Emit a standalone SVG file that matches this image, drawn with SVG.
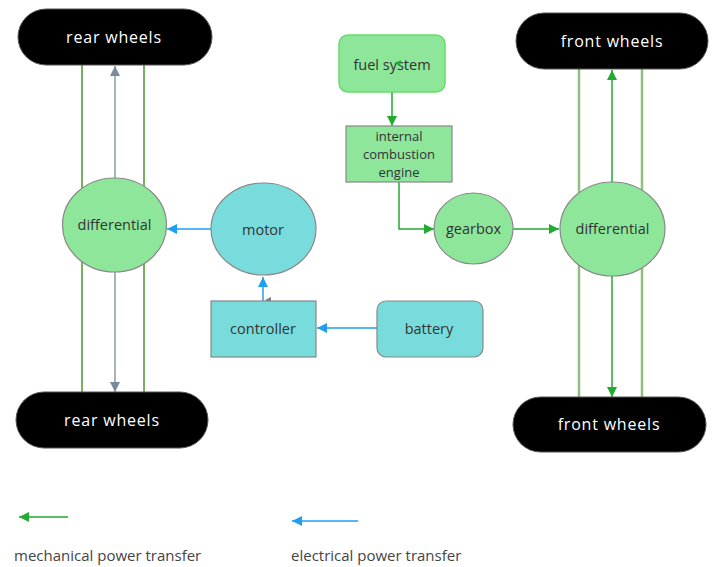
<svg xmlns="http://www.w3.org/2000/svg" width="723" height="567" viewBox="0 0 723 567">
<defs>
<marker id="ag" viewBox="0 0 10 10" refX="10" refY="5" markerWidth="10" markerHeight="10" markerUnits="userSpaceOnUse" orient="auto"><path d="M0,0 L10,5 L0,10 Z" fill="#22aa33"/></marker>
<marker id="ab" viewBox="0 0 10 10" refX="10" refY="5" markerWidth="10" markerHeight="10" markerUnits="userSpaceOnUse" orient="auto"><path d="M0,0 L10,5 L0,10 Z" fill="#1e9ff0"/></marker>
<marker id="agr" viewBox="0 0 10 10" refX="10" refY="5" markerWidth="10" markerHeight="10" markerUnits="userSpaceOnUse" orient="auto"><path d="M0,0 L10,5 L0,10 Z" fill="#7a8a99"/></marker>
</defs>
<style>
.wheel{fill:#000;stroke:#555;stroke-width:1}
.wt{font-family:"Open Sans","DejaVu Sans",sans-serif;font-size:16px;fill:#fff;letter-spacing:0.8px;text-anchor:middle;dominant-baseline:central}
.lt{font-family:"Open Sans","DejaVu Sans",sans-serif;font-size:14.5px;fill:#333;text-anchor:middle;dominant-baseline:central}
.st{font-family:"Open Sans","DejaVu Sans",sans-serif;font-size:13px;fill:#333;text-anchor:middle;dominant-baseline:central}
.gn{fill:#8ee69b;stroke:#888;stroke-width:1.2}
.cy{fill:#79dcdc;stroke:#888;stroke-width:1.2}
.leg{font-family:"Open Sans","DejaVu Sans",sans-serif;font-size:15px;fill:#444}
.shaftL{stroke:#77b060;stroke-width:2;fill:none}
.shaftR{stroke:#8fbf80;stroke-width:2.5;fill:none}
.mg{stroke:#22aa33;stroke-width:1.5;fill:none}
.el{stroke:#1e9ff0;stroke-width:1.5;fill:none}
.gr{stroke:#8a9aa8;stroke-width:1.5;fill:none}
</style>
<g id="shafts">
<line class="shaftL" x1="82" y1="65" x2="82" y2="392"/>
<line class="shaftL" x1="144" y1="65" x2="144" y2="392"/>
<line class="shaftR" x1="579" y1="69" x2="579" y2="397"/>
<line class="shaftR" x1="642" y1="69" x2="642" y2="397"/>
</g>
<g id="connectors">
<line class="gr" x1="115" y1="178" x2="115" y2="66" marker-end="url(#agr)"/>
<line class="gr" x1="115" y1="272" x2="115" y2="392" marker-end="url(#agr)"/>
<line class="el" x1="211" y1="229" x2="167" y2="229" marker-end="url(#ab)"/>
<line class="el" x1="263" y1="301" x2="263" y2="277" marker-end="url(#ab)"/>
<path d="M265,300 L271,297 L271,303 Z" fill="#7f7f7f"/>
<line class="el" x1="377" y1="328" x2="317" y2="328" marker-end="url(#ab)"/>
<line class="mg" x1="392" y1="92" x2="392" y2="126" marker-end="url(#ag)"/>
<polyline class="mg" points="399,182 399,229 434,229" marker-end="url(#ag)"/>
<line class="mg" x1="513" y1="229" x2="559" y2="229" marker-end="url(#ag)"/>
<line class="mg" x1="612" y1="182" x2="612" y2="70" marker-end="url(#ag)"/>
<line class="mg" x1="612" y1="276" x2="612" y2="397" marker-end="url(#ag)"/>
</g>
<g id="rear-wheels-top"><rect class="wheel" x="18" y="9" width="194" height="56" rx="28"/><text class="wt" x="114" y="37">rear wheels</text></g>
<g id="rear-wheels-bottom"><rect class="wheel" x="16" y="392" width="192" height="56" rx="28"/><text class="wt" x="112" y="420">rear wheels</text></g>
<g id="front-wheels-top"><rect class="wheel" x="516" y="13" width="192" height="56" rx="28"/><text class="wt" x="612" y="41">front wheels</text></g>
<g id="front-wheels-bottom"><rect class="wheel" x="513" y="397" width="193" height="55" rx="27.5"/><text class="wt" x="609" y="424">front wheels</text></g>
<g id="differential-rear"><ellipse class="gn" cx="114.5" cy="225" rx="52" ry="47"/><text class="lt" x="114.5" y="224">differential</text></g>
<g id="motor"><ellipse class="cy" cx="263.5" cy="229" rx="52.5" ry="46"/><text class="lt" x="263" y="229">motor</text></g>
<g id="controller"><rect class="cy" x="211" y="301" width="105" height="56"/><text class="lt" x="263" y="328">controller</text></g>
<g id="battery"><rect class="cy" x="377" y="301" width="106" height="56" rx="9"/><text class="lt" x="429" y="328">battery</text></g>
<g id="fuel-system"><rect x="339" y="35" width="106" height="57" rx="9" fill="#8ee69b" stroke="#66dd66" stroke-width="1.5"/><text class="lt" x="392" y="64">fuel system</text><path d="M395,63 L401,60 L400,66 Z" fill="#22aa33"/></g>
<g id="ice"><rect class="gn" x="346" y="126" width="106" height="56"/><text class="st" x="399" y="136">internal</text><text class="st" x="399" y="154">combustion</text><text class="st" x="399" y="172">engine</text></g>
<g id="gearbox"><ellipse class="gn" cx="473.5" cy="228.5" rx="39.5" ry="35.5"/><text class="lt" x="473.5" y="228.5">gearbox</text></g>
<g id="differential-front"><ellipse class="gn" cx="612.5" cy="229" rx="52.5" ry="47"/><text class="lt" x="612.5" y="228">differential</text></g>
<g id="legend">
<line class="mg" x1="68" y1="517" x2="19" y2="517" marker-end="url(#ag)"/>
<text class="leg" x="14" y="561">mechanical power transfer</text>
<line class="el" x1="358" y1="521" x2="292" y2="521" marker-end="url(#ab)"/>
<text class="leg" x="291" y="561">electrical power transfer</text>
</g>
</svg>
